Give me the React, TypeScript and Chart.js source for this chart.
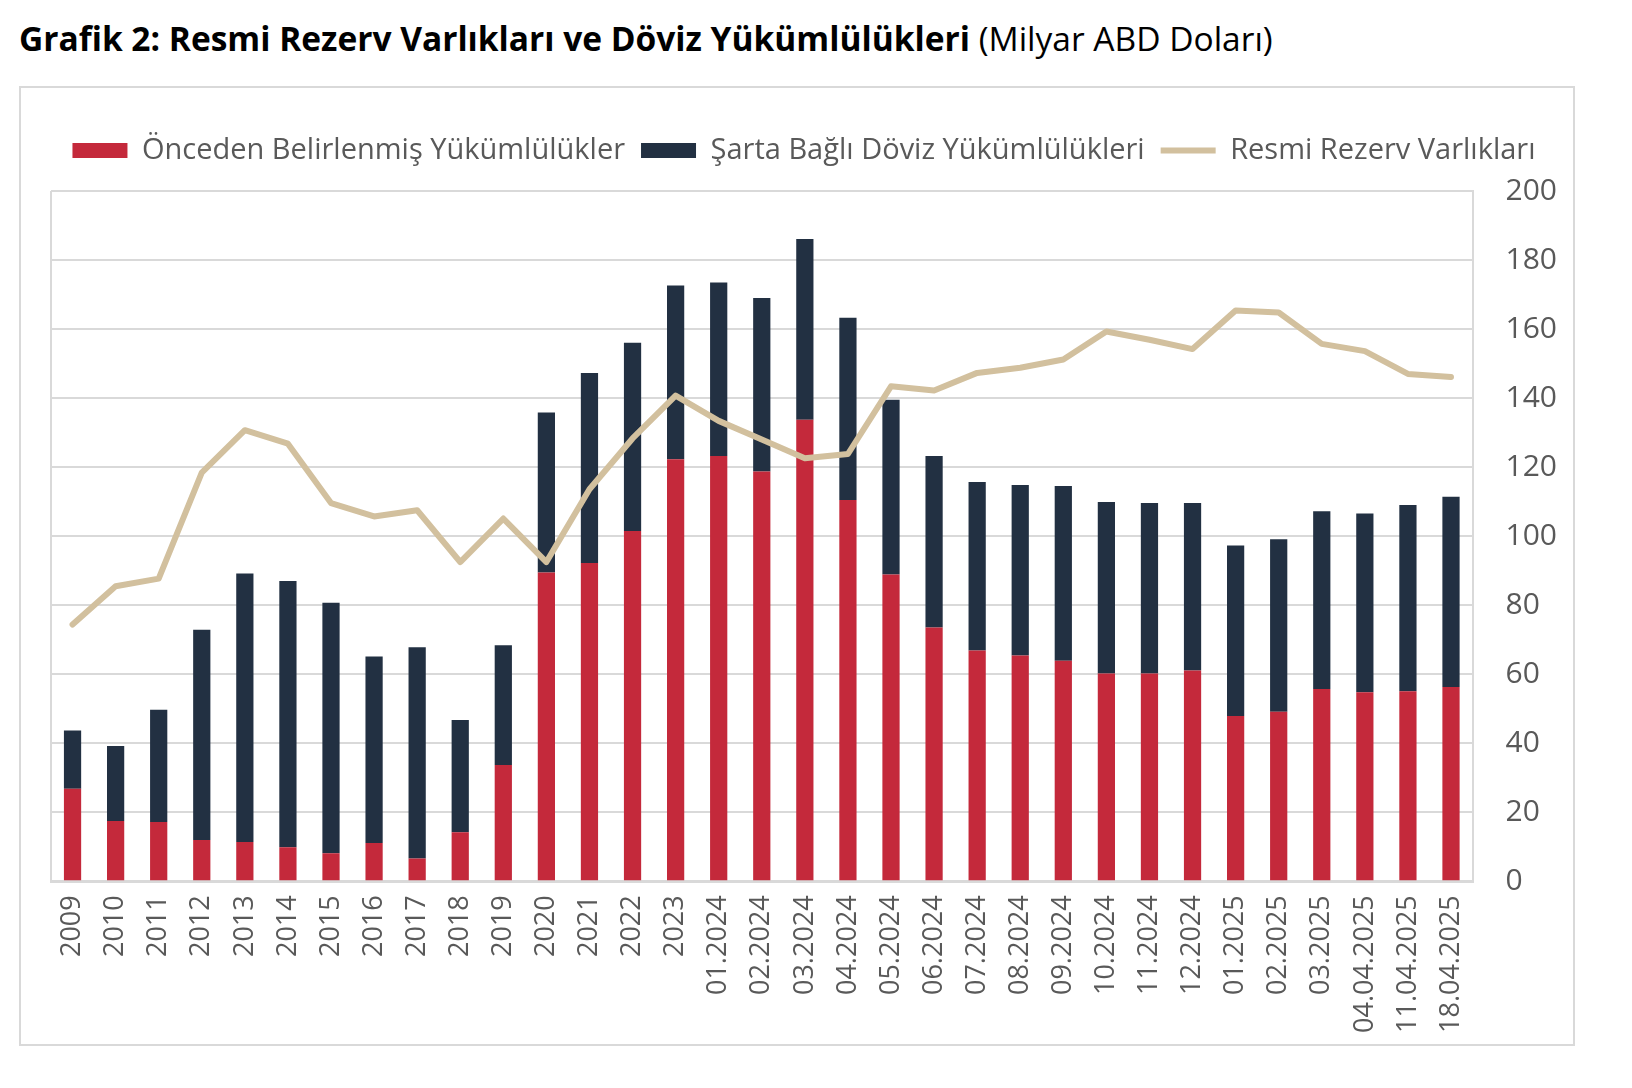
import { useEffect, useRef } from 'react';
import { Chart, registerables } from 'chart.js';

Chart.register(...registerables);

const categories = [
  '2009', '2010', '2011', '2012', '2013', '2014', '2015', '2016', '2017', '2018', '2019',
  '2020', '2021', '2022', '2023', '01.2024', '02.2024', '03.2024', '04.2024', '05.2024',
  '06.2024', '07.2024', '08.2024', '09.2024', '10.2024', '11.2024', '12.2024', '01.2025',
  '02.2025', '03.2025', '04.04.2025', '11.04.2025', '18.04.2025',
];

// Önceden Belirlenmiş Yükümlülükler (kırmızı)
const predetermined = [
  26.8, 17.5, 17.2, 12.0, 11.4, 9.9, 8.1, 11.1, 6.6, 14.2, 33.7,
  89.5, 92.2, 101.5, 122.3, 123.2, 118.7, 133.7, 110.5, 88.9,
  73.5, 66.9, 65.4, 63.9, 60.2, 60.2, 61.1, 47.9,
  49.1, 55.7, 54.8, 55.1, 56.3,
];

// Şarta Bağlı Döviz Yükümlülükleri (lacivert)
const contingent = [
  16.9, 21.7, 32.5, 60.9, 77.8, 77.1, 72.6, 54.0, 61.2, 32.5, 34.7,
  46.3, 55.1, 54.5, 50.3, 50.3, 50.3, 52.4, 52.8, 50.6,
  49.7, 48.8, 49.4, 50.6, 49.7, 49.4, 48.5, 49.4,
  50.0, 51.5, 51.8, 53.9, 55.1,
];

// Resmi Rezerv Varlıkları (çizgi)
const reserves = [
  74.4, 85.5, 87.7, 118.4, 130.7, 126.8, 109.6, 105.7, 107.5, 92.5, 105.1,
  92.5, 113.6, 128.3, 140.7, 133.4, 128.0, 122.6, 123.8, 143.4,
  142.2, 147.3, 148.8, 151.2, 159.3, 156.9, 154.2, 165.4,
  164.8, 155.7, 153.6, 147.0, 146.1,
];

const FONT = 'Open Sans';
const TEXT = '#595959';
const GRID = '#d9d9d9';

// legend ile grafik alanı arasında biraz boşluk
const legendGap = {
  id: 'legendGap',
  afterInit(chart: any) {
    const fit = chart.legend.fit;
    chart.legend.fit = function () {
      fit.call(this);
      this.height += 16;
    };
  },
};

export default function App() {
  const chartRef = useRef<HTMLCanvasElement>(null);

  useEffect(() => {
    if (!chartRef.current) return;
    const chart = new Chart(chartRef.current, {
      type: 'bar',
      data: {
        labels: categories,
        datasets: [
          {
            label: 'Önceden Belirlenmiş Yükümlülükler',
            data: predetermined,
            backgroundColor: '#c4293b',
            barPercentage: 0.4,
            categoryPercentage: 1,
            order: 1,
          },
          {
            label: 'Şarta Bağlı Döviz Yükümlülükleri',
            data: contingent,
            backgroundColor: '#223042',
            barPercentage: 0.4,
            categoryPercentage: 1,
            order: 1,
          },
          {
            type: 'line',
            label: 'Resmi Rezerv Varlıkları',
            data: reserves,
            borderColor: '#d2c09e',
            backgroundColor: '#d2c09e',
            borderWidth: 6,
            borderCapStyle: 'round',
            borderJoinStyle: 'round',
            pointRadius: 0,
            tension: 0,
            stack: 'line',
            order: 0,
          } as any,
        ],
      },
      options: {
        animation: false,
        responsive: true,
        maintainAspectRatio: false,
        layout: { padding: { left: 30, right: 16, top: 32, bottom: 0 } },
        plugins: {
          tooltip: { enabled: false },
          legend: {
            position: 'top',
            labels: {
              usePointStyle: true,
              pointStyleWidth: 55,
              boxHeight: 15,
              padding: 16,
              color: TEXT,
              font: { family: FONT, size: 29 },
              sort: (a, b) => (a.datasetIndex ?? 0) - (b.datasetIndex ?? 0),
              generateLabels: (c) =>
                Chart.defaults.plugins.legend.labels.generateLabels(c).map(item => ({
                  ...item,
                  pointStyle: item.datasetIndex === 2 ? 'line' : 'rect',
                })),
            },
          },
        },
        scales: {
          x: {
            stacked: true,
            afterFit: (scale: any) => {
              scale.paddingRight = 0;
              scale.height -= 3;
            },
            grid: {
              drawTicks: false,
              lineWidth: 2,
              color: (ctx: any) => (ctx.index === 0 ? GRID : 'rgba(0,0,0,0)'),
            },
            border: { color: GRID, width: 3 },
            ticks: {
              autoSkip: false,
              minRotation: 90,
              maxRotation: 90,
              padding: 14,
              color: TEXT,
              font: { family: FONT, size: 27 },
            },
          },
          y: {
            stacked: true,
            position: 'right',
            min: 0,
            max: 200,
            // Chart.js reserves the tick padding on both sides of the labels; drop the outer one
            afterFit: (scale: any) => {
              scale.width -= 33;
            },
            grid: { drawTicks: false, color: GRID, lineWidth: 2 },
            border: { color: GRID, width: 2 },
            ticks: {
              stepSize: 20,
              padding: 33,
              color: TEXT,
              font: { family: FONT, size: 30 },
            },
          },
        },
      },
      plugins: [legendGap],
    });
    return () => chart.destroy();
  }, []);

  return (
    <div style={{ position: 'absolute', left: 0, top: 0, width: 1632, height: 1088, background: '#fff' }}>
      <div
        style={{
          position: 'absolute',
          left: 19,
          top: 18,
          fontFamily: FONT,
          fontSize: 33.5,
          lineHeight: '40px',
          color: '#000',
          whiteSpace: 'nowrap',
        }}
      >
        <b>Grafik 2: Resmi Rezerv Varlıkları ve Döviz Yükümlülükleri</b> (Milyar ABD Doları)
      </div>
      <div
        style={{
          position: 'absolute',
          left: 19,
          top: 86,
          width: 1552,
          height: 956,
          border: `2px solid ${GRID}`,
        }}
      >
        <canvas ref={chartRef} />
      </div>
    </div>
  );
}
